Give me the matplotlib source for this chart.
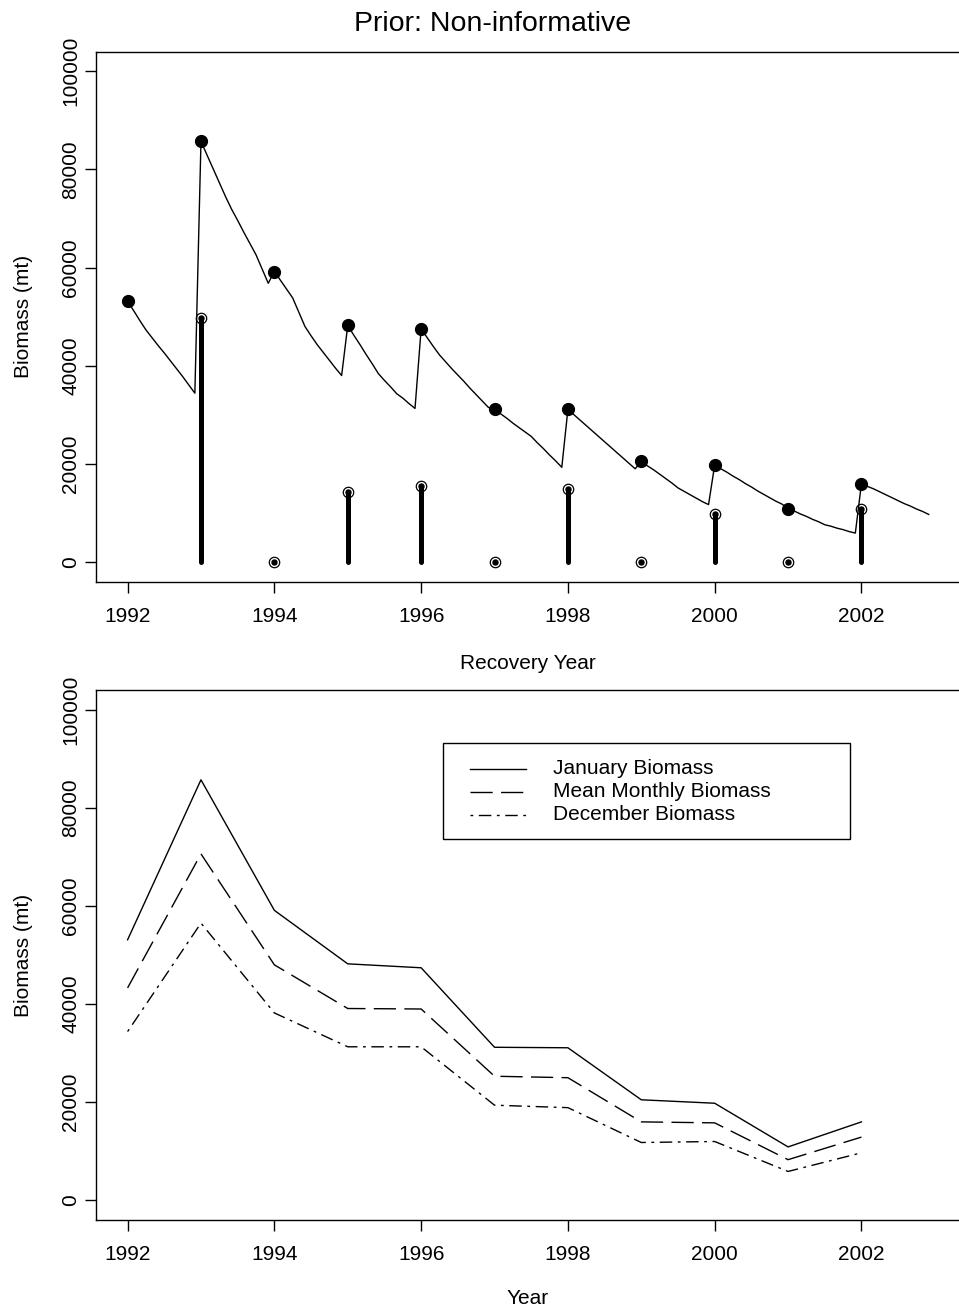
import numpy as np
import matplotlib
matplotlib.use("Agg")
import matplotlib.pyplot as plt
from matplotlib.patches import Rectangle
from matplotlib.lines import Line2D

plt.rcParams['font.family'] = ['Liberation Sans', 'DejaVu Sans']

# Jahre
years = [1992, 1993, 1994, 1995, 1996, 1997, 1998, 1999, 2000, 2001, 2002]

# monatliche Biomasse (Jan..Dez je Jahr)
monthly_biomass = [
    53100, 51200, 49200, 47300, 45700, 44100, 42600, 41000, 39400, 37800, 36100, 34400,
    85700, 82900, 80100, 77300, 74500, 71900, 69600, 67200, 64900, 62600, 59700, 56800,
    59200, 57400, 55600, 53800, 50900, 48000, 46100, 44300, 42700, 41100, 39500, 38000,
    48200, 46200, 44300, 42300, 40400, 38400, 37000, 35700, 34300, 33400, 32300, 31300,
    47500, 45700, 43900, 42200, 40800, 39400, 38100, 36800, 35400, 34100, 32800, 31500,
    31200, 30200, 29300, 28300, 27400, 26500, 25600, 24300, 23100, 21800, 20600, 19300,
    31100, 30000, 28900, 27800, 26700, 25600, 24500, 23400, 22300, 21200, 20100, 19000,
    20500, 19600, 18800, 17900, 17000, 16100, 15100, 14400, 13700, 13000, 12300, 11700,
    19800, 19000, 18300, 17500, 16800, 16000, 15300, 14500, 13800, 13100, 12400, 11800,
    10900, 10400, 9800, 9300, 8700, 8200, 7600, 7300, 6900, 6600, 6200, 5900,
    16000, 15400, 14900, 14300, 13700, 13100, 12500, 11900, 11400, 10800, 10300, 9700,
]

# Rekrutierung (Balken mit Kreisen)
recruit_years = [1993, 1994, 1995, 1996, 1997, 1998, 1999, 2000, 2001, 2002]
recruit_values = [49700, 0, 14300, 15400, 0, 14900, 0, 9850, 0, 10900]

# Jahreswerte fuer den unteren Plot
jan_biomass = [53100, 85700, 59100, 48200, 47400, 31200, 31100, 20500, 19800, 10900, 16000]
mean_biomass = [43300, 70600, 48000, 39100, 39000, 25300, 25000, 16000, 15800, 8300, 12900]
dec_biomass = [34400, 56500, 38200, 31300, 31300, 19400, 18900, 11800, 12000, 5900, 9700]

legend_labels = ["January Biomass", "Mean Monthly Biomass", "December Biomass"]
yticks = [0, 20000, 40000, 60000, 80000, 100000]
xticks = [1992, 1994, 1996, 1998, 2000, 2002]

month_time = np.repeat(years, 12) + np.tile(np.arange(12) / 12.0, len(years))

FS = 15
long_dash = (0, (16, 6))
dot_dash = (0, (2, 4, 9, 4))

fig = plt.figure(figsize=(9.59, 13.13), dpi=100)
ax1 = fig.add_axes([0.0996, 0.557, 0.902, 0.4037])
ax2 = fig.add_axes([0.0996, 0.0708, 0.902, 0.4037])


def style_axes(ax):
    ax.set_xlim(1991.563, 2003.35)
    ax.set_ylim(-4000, 104000)
    ax.set_xticks(xticks)
    ax.set_yticks(yticks)
    ax.set_yticklabels([str(v) for v in yticks], rotation=90, va="center")
    ax.tick_params(direction="out", length=8, width=1.0, labelsize=FS)
    ax.tick_params(axis="x", pad=10)
    ax.tick_params(axis="y", pad=3)
    for s in ax.spines.values():
        s.set_linewidth(1.0)
    ax.text(-0.0838, 0.5, "Biomass (mt)", rotation=90, transform=ax.transAxes,
            ha="center", va="center", fontsize=FS)


# oberer Plot
style_axes(ax1)
ax1.plot(month_time, monthly_biomass, color="black", linewidth=1.0)
ax1.plot(years, jan_biomass, "o", color="black", markersize=8.5)
ax1.vlines(recruit_years, 0, recruit_values, color="black", linewidth=3.6,
           capstyle="round")
ax1.plot(recruit_years, recruit_values, "o", color="black", markersize=3.6)
ax1.plot(recruit_years, recruit_values, "o", markerfacecolor="none",
         markeredgecolor="black", markeredgewidth=0.9, markersize=7.5)
ax1.text(0.5, -0.1647, "Recovery Year", transform=ax1.transAxes,
         ha="center", va="baseline", fontsize=FS)

# unterer Plot
style_axes(ax2)
ax2.plot(years, jan_biomass, color="black", linewidth=1.0, linestyle="-")
ax2.plot(years, mean_biomass, color="black", linewidth=1.0, linestyle=long_dash)
ax2.plot(years, dec_biomass, color="black", linewidth=1.0, linestyle=dot_dash)
ax2.text(0.5, -0.1585, "Year", transform=ax2.transAxes,
         ha="center", va="baseline", fontsize=FS)

# Legende von Hand
ax2.add_patch(Rectangle((0.4021, 0.7189), 0.8723 - 0.4021, 0.8994 - 0.7189,
                        transform=ax2.transAxes, fill=False, edgecolor="black",
                        linewidth=1.0))
rows = [0.8515, 0.8081, 0.7642]
styles = ["-", long_dash, dot_dash]
for lab, yy, ls in zip(legend_labels, rows, styles):
    ax2.add_line(Line2D([0.4329, 0.4977], [yy, yy], transform=ax2.transAxes,
                        color="black", linewidth=1.0, linestyle=ls))
    ax2.text(0.5293, yy, lab, transform=ax2.transAxes, ha="left", va="center",
             fontsize=FS)

fig.text(492.5 / 959, 1 - 31 / 1313, "Prior: Non-informative", ha="center",
         va="baseline", fontsize=20.5)

plt.savefig("out.png", dpi=100)
